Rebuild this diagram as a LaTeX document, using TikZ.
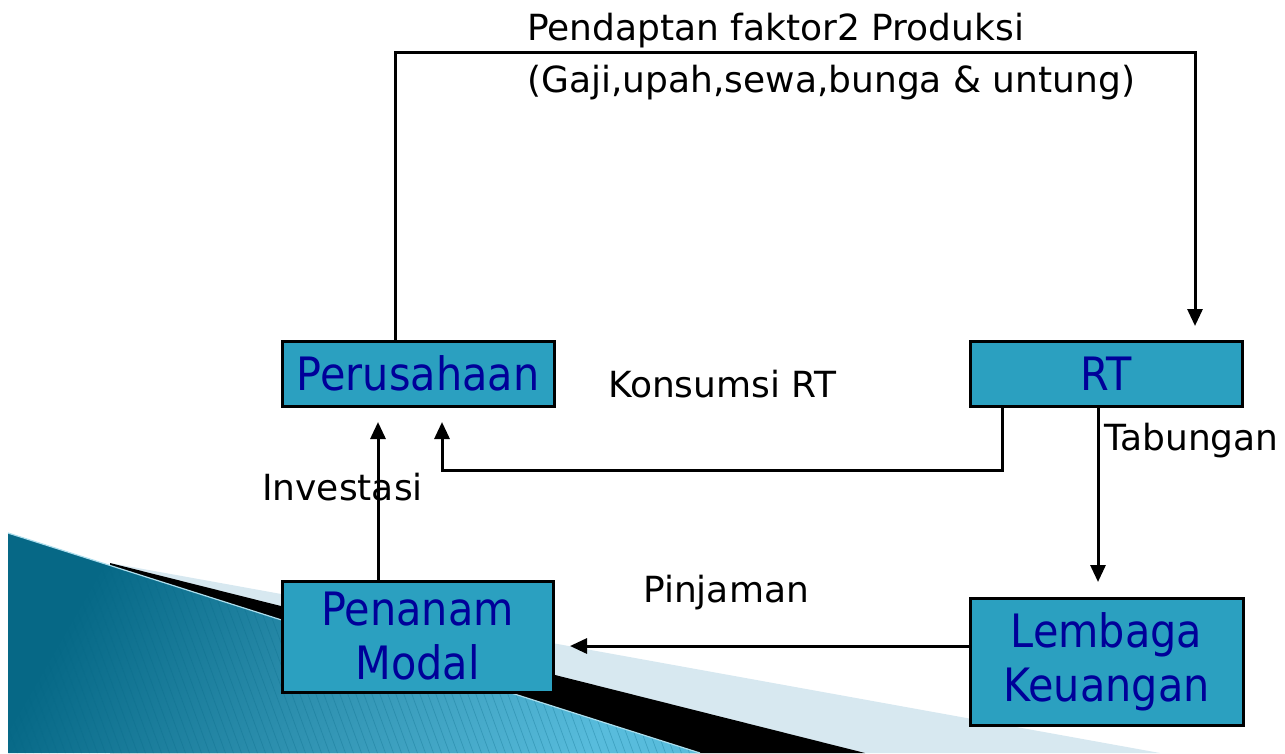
\documentclass[tikz,border=0pt]{standalone}
\usepackage{fontspec}
\setmainfont{DejaVu Sans}
\newfontfamily\boxfont[FakeStretch=0.9]{DejaVu Sans}
\usetikzlibrary{arrows.meta}

\definecolor{boxfill}{RGB}{43,160,192}
\definecolor{boxtext}{RGB}{0,0,153}
\definecolor{bandlight}{RGB}{215,232,240}
\definecolor{tealdark}{RGB}{6,104,134}
\definecolor{teallight}{RGB}{88,188,220}

\begin{document}
\begin{tikzpicture}[x=1pt,y=-1pt,
    blok/.style={draw=black, line width=3pt, fill=boxfill, text=boxtext,
        font=\boxfont\fontsize{46}{54}\selectfont, align=center,
        inner sep=0pt, outer sep=0pt},
    ket/.style={font=\fontsize{36}{40}\selectfont, inner sep=0pt, anchor=base west},
    alur/.style={line width=3pt, -{Triangle[length=17pt,width=15pt]}}]
    \useasboundingbox (0,0) rectangle (1285,753);
    % background wedges
    \fill[bandlight] (110,563) -- (1160,753) -- (110,753) -- cycle;
    \fill[black] (110,563) -- (865,753) -- (110,753) -- cycle;
    \shade[left color=tealdark, right color=teallight, shading angle=60]
        (8,533) -- (700,753) -- (8,753) -- cycle;
    \begin{scope}
        \clip (8,533) -- (700,753) -- (8,753) -- cycle;
        \foreach \i in {-100,-92,...,700}
            \draw[tealdark, opacity=0.3, line width=0.7pt] (\i,520) -- (\i+88,760);
    \end{scope}
    \draw[teallight!50!white, line width=1.2pt] (8,533) -- (700,753);

    \node[blok, minimum width=272pt, minimum height=65pt] (perusahaan) at (418,373.5) {Perusahaan};
    \node[blok, minimum width=272pt, minimum height=65pt] (rt) at (1106,373.5) {RT};
    \node[blok, minimum width=271pt, minimum height=111pt] (penanam) at (417.5,636.5) {Penanam\\Modal};
    \node[blok, minimum width=273pt, minimum height=127pt] (lembaga) at (1106.5,661.5) {Lembaga\\Keuangan};

    \node[ket] (pendapatan) at (527,40) {Pendaptan faktor2 Produksi};
    \node[ket] (gaji) at (527,92) {(Gaji,upah,sewa,bunga \& untung)};
    \node[ket] (konsumsi) at (608,397) {Konsumsi RT};
    \node[ket] (tabungan) at (1104,450) {Tabungan};
    \node[ket] (investasi) at (262,500) {Investasi};
    \node[ket] (pinjaman) at (643,602) {Pinjaman};

    \coordinate (atasKiri) at (395,52);
    \coordinate (atasKanan) at (1195,52);
    \coordinate (ujungRT) at (1195,326);
    \coordinate (konsKanan) at (1002,470);
    \coordinate (konsKiri) at (442,470);
    \coordinate (ujungKons) at (442,422);
    \coordinate (ujungTab) at (1098,582);
    \coordinate (ujungPinj) at (570,646);
    \coordinate (ujungInv) at (378,422);

    \draw[alur] (perusahaan.north -| atasKiri) -- (atasKiri) -- (atasKanan) -- (ujungRT);
    \draw[alur] (rt.south -| konsKanan) -- (konsKanan) -- (konsKiri) -- (ujungKons);
    \draw[alur] (rt.south -| ujungTab) -- (ujungTab);
    \draw[alur] (lembaga.west |- ujungPinj) -- (ujungPinj);
    \draw[alur] (penanam.north -| ujungInv) -- (ujungInv);
\end{tikzpicture}
\end{document}
